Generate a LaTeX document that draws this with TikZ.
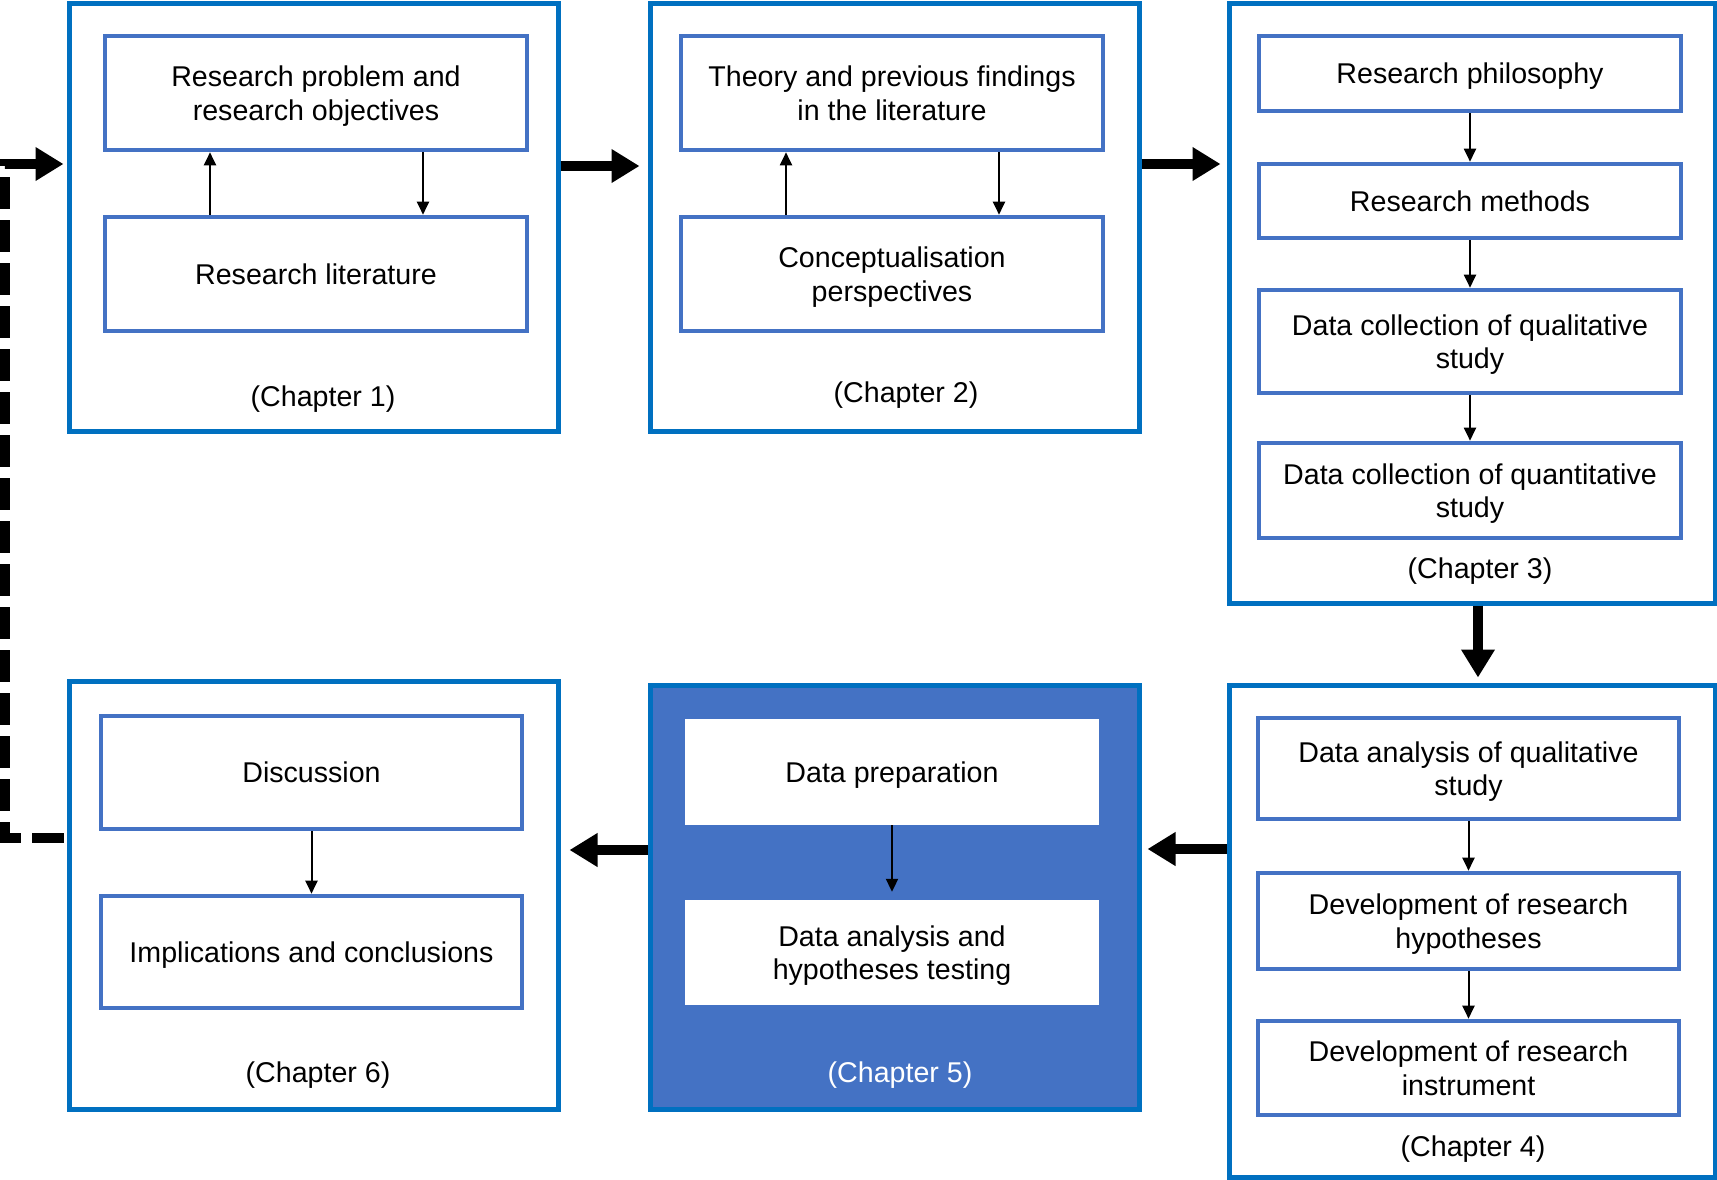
\documentclass[tikz,border=0pt]{standalone}
\usepackage{fontspec}
\setmainfont{Liberation Sans}
\usetikzlibrary{arrows.meta}
\definecolor{outerblue}{HTML}{0070C0}
\definecolor{innerblue}{HTML}{4472C4}
\newcommand{\bodyfont}{\fontsize{28.6}{33.6}\selectfont}
\begin{document}
\begin{tikzpicture}[x=1pt,y=-1pt,
  outerbox/.style={draw=outerblue, line width=5pt, inner sep=0pt},
  innerbox/.style={draw=innerblue, line width=4.6pt, inner sep=0pt, align=center, font=\bodyfont, text depth=0pt},
  whitebox/.style={fill=white, inner sep=0pt, align=center, font=\bodyfont, text depth=0pt},
  chaptag/.style={inner sep=0pt, font=\bodyfont, text depth=0pt},
  thinarrow/.style={-{Triangle[length=13pt,width=12pt]}, line width=2pt},
  bigarrow/.style={-{Triangle[length=28pt,width=32pt]}, line width=10pt},
  loopline/.style={line width=10pt, dash pattern=on 32pt off 11pt}]
\useasboundingbox (0,0) rectangle (1717,1179);

% Chapter 1
\node[outerbox, minimum width=489pt, minimum height=428pt] (c1) at (313.5,217) {};
\node[innerbox, minimum width=422pt, minimum height=114pt] (c1a) at (316,93) {Research problem and\\research objectives};
\node[innerbox, minimum width=422pt, minimum height=114pt] (c1b) at (316,274) {Research literature};
\node[chaptag] (t1) at (323,396) {(Chapter 1)};

% Chapter 2
\node[outerbox, minimum width=489pt, minimum height=428pt] (c2) at (894.5,217) {};
\node[innerbox, minimum width=422pt, minimum height=114pt] (c2a) at (892,93) {Theory and previous findings\\in the literature};
\node[innerbox, minimum width=422pt, minimum height=114pt] (c2b) at (892,274) {Conceptualisation\\perspectives};
\node[chaptag] (t2) at (906,392) {(Chapter 2)};

% Chapter 3
\node[outerbox, minimum width=486pt, minimum height=600pt] (c3) at (1472,303) {};
\node[innerbox, minimum width=422pt, minimum height=75pt] (c3a) at (1470,73.5) {Research philosophy};
\node[innerbox, minimum width=422pt, minimum height=74pt] (c3b) at (1470,201) {Research methods};
\node[innerbox, minimum width=422pt, minimum height=103pt] (c3c) at (1470,341.5) {Data collection of qualitative\\study};
\node[innerbox, minimum width=422pt, minimum height=95pt] (c3d) at (1470,490.5) {Data collection of quantitative\\study};
\node[chaptag] (t3) at (1480,568) {(Chapter 3)};

% Chapter 4
\node[outerbox, minimum width=486pt, minimum height=492pt] (c4) at (1472,931) {};
\node[innerbox, minimum width=421pt, minimum height=101pt] (c4a) at (1468.5,768.5) {Data analysis of qualitative\\study};
\node[innerbox, minimum width=421pt, minimum height=96pt] (c4b) at (1468.5,921) {Development of research\\hypotheses};
\node[innerbox, minimum width=421pt, minimum height=94pt] (c4c) at (1468.5,1068) {Development of research\\instrument};
\node[chaptag] (t4) at (1473,1146) {(Chapter 4)};

% Chapter 5
\node[outerbox, fill=innerblue, minimum width=489pt, minimum height=424pt] (c5) at (894.5,897) {};
\node[whitebox, minimum width=414pt, minimum height=106pt] (c5a) at (892,772) {Data preparation};
\node[whitebox, minimum width=414pt, minimum height=105pt] (c5b) at (892,952.5) {Data analysis and\\hypotheses testing};
\node[chaptag, text=white] (t5) at (900,1072) {(Chapter 5)};

% Chapter 6
\node[outerbox, minimum width=489pt, minimum height=428pt] (c6) at (313.5,895) {};
\node[innerbox, minimum width=421pt, minimum height=113pt] (c6a) at (311.5,772.5) {Discussion};
\node[innerbox, minimum width=421pt, minimum height=112pt] (c6b) at (311.5,952) {Implications and conclusions};
\node[chaptag] (t6) at (318,1072) {(Chapter 6)};

% links inside the chapters
\draw[thinarrow] ([xshift=-106pt]c1b.north) -- ([xshift=-106pt]c1a.south);
\draw[thinarrow] ([xshift=107pt]c1a.south) -- ([xshift=107pt]c1b.north);
\draw[thinarrow] ([xshift=-106pt]c2b.north) -- ([xshift=-106pt]c2a.south);
\draw[thinarrow] ([xshift=107pt]c2a.south) -- ([xshift=107pt]c2b.north);
\draw[thinarrow] (c3a) -- (c3b);
\draw[thinarrow] (c3b) -- (c3c);
\draw[thinarrow] (c3c) -- (c3d);
\draw[thinarrow] (c4a) -- (c4b);
\draw[thinarrow] (c4b) -- (c4c);
\draw[thinarrow, shorten >=8pt] (c5a) -- (c5b);
\draw[thinarrow] (c6a) -- (c6b);

% links between the chapters
\coordinate (p12) at ([yshift=51pt]c1.east);
\draw[bigarrow, shorten >=8pt] (p12) -- (p12 -| c2.west);
\coordinate (p23) at ([yshift=53pt]c2.east);
\draw[bigarrow, shorten >=6pt] (p23) -- (p23 -| c3.west);
\coordinate (p34) at ([xshift=6pt]c3.south);
\draw[bigarrow, shorten >=5pt] (p34) -- (p34 |- c4.north);
\coordinate (p45) at ([yshift=82pt]c4.west);
\draw[bigarrow, shorten >=6pt] (p45) -- (p45 -| c5.east);
\coordinate (p56) at ([yshift=47pt]c5.west);
\draw[bigarrow, shorten >=9pt] (p56) -- (p56 -| c6.east);

% feedback loop back to the start
\coordinate (p61) at ([yshift=57pt]c6.west);
\coordinate (q1) at ([yshift=53pt]c1.west);
\coordinate (corner) at (5,0);
\draw[loopline] ([xshift=-3pt]p61) -- (p61 -| corner) -- (q1 -| corner) -- ([xshift=-22pt]q1);
\draw[bigarrow, shorten >=3pt] ([xshift=-26pt]q1) -- (q1);
\end{tikzpicture}
\end{document}
